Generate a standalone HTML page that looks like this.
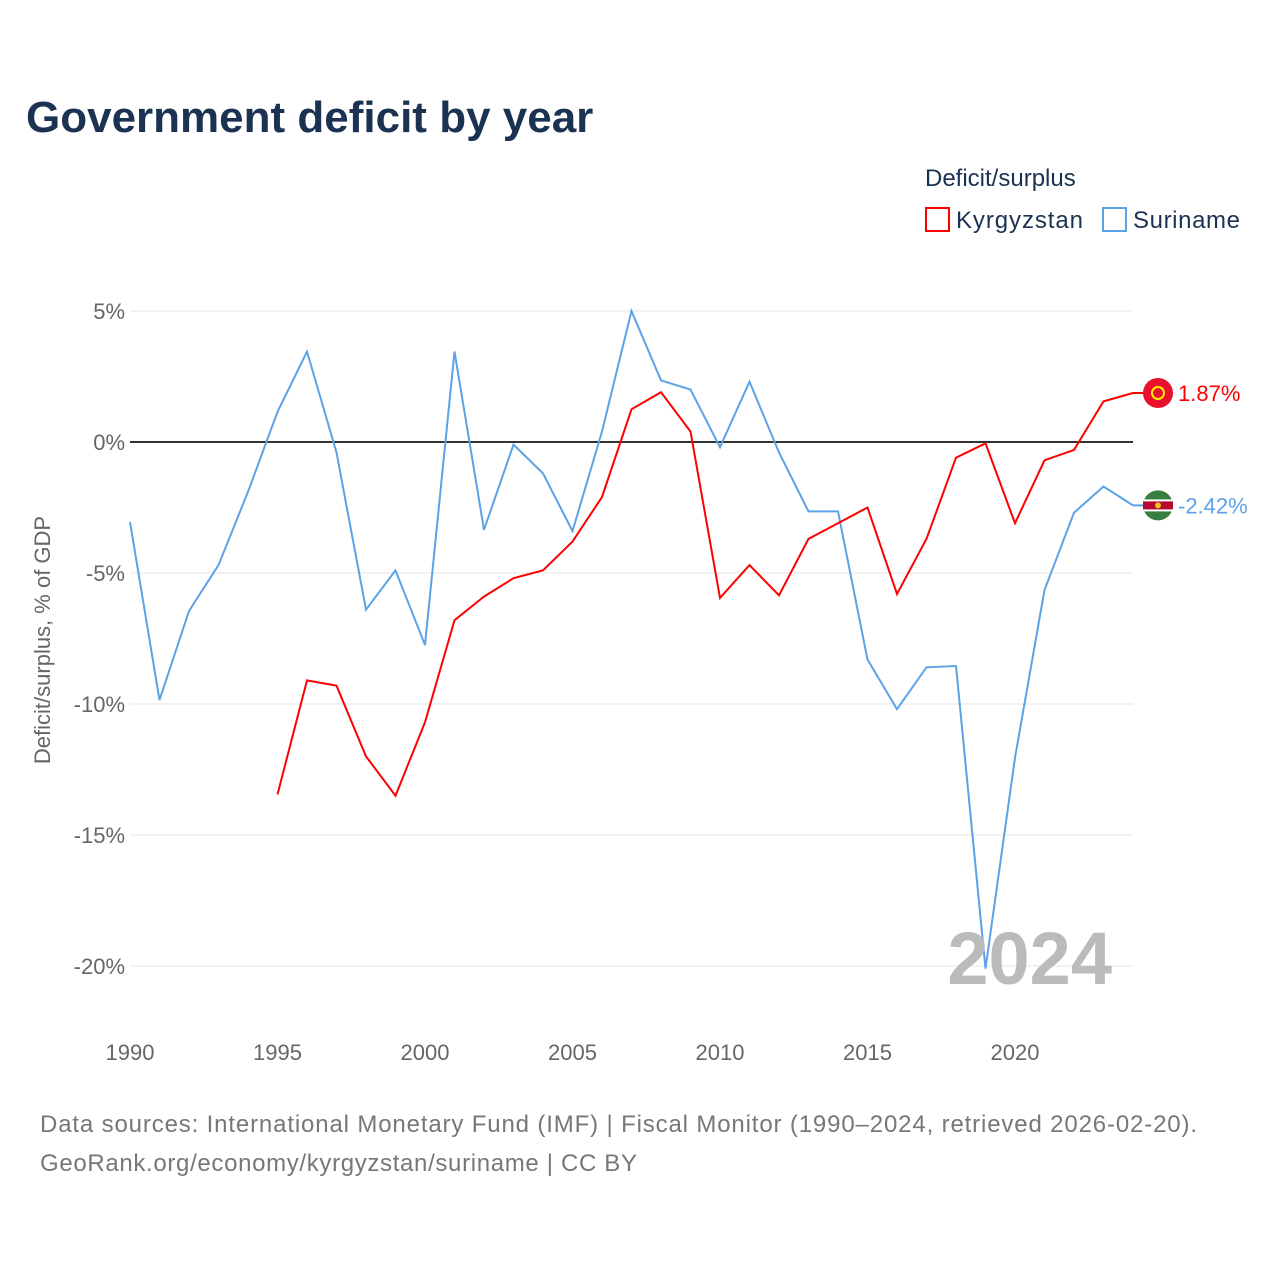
<!DOCTYPE html>
<html><head><meta charset="utf-8">
<style>
body{margin:0;background:#fff;font-family:"Liberation Sans",sans-serif;}
svg text{font-family:"Liberation Sans",sans-serif;}
</style></head>
<body>
<svg id="chart" width="1280" height="1280" viewBox="0 0 1280 1280" xmlns="http://www.w3.org/2000/svg">
<rect width="1280" height="1280" fill="#fff"/>
<text x="26" y="132" font-size="44" font-weight="bold" fill="#1b3252">Government deficit by year</text>
<text x="925" y="186" font-size="24" fill="#1b3252">Deficit/surplus</text>
<g>
<rect x="926" y="208" width="23" height="23" fill="none" stroke="#ff0000" stroke-width="2"/>
<text x="956" y="228" font-size="24" fill="#1b3252" textLength="127">Kyrgyzstan</text></g>
<g>
<rect x="1103" y="208" width="23" height="23" fill="none" stroke="#5ba3e6" stroke-width="2"/>
<text x="1133" y="228" font-size="24" fill="#1b3252" textLength="107">Suriname</text></g>
<text transform="translate(50,640) rotate(-90)" text-anchor="middle" font-size="22" fill="#666">Deficit/surplus, % of GDP</text>
<g id="grid"></g>
<g id="lines"></g>
<text x="1112" y="984" text-anchor="end" font-size="74" font-weight="bold" fill="#bbb">2024</text>
<text x="40" y="1132" font-size="24" fill="#777" textLength="1157">Data sources: International Monetary Fund (IMF) | Fiscal Monitor (1990–2024, retrieved 2026-02-20).</text>
<text x="40" y="1171" font-size="24" fill="#777" textLength="597">GeoRank.org/economy/kyrgyzstan/suriname | CC BY</text>
</svg>
<script>
const years=[];for(let y=1990;y<=2024;y++)years.push(y);
const suriname=[-3.05,-9.85,-6.45,-4.7,-1.9,1.15,3.45,-0.4,-6.4,-4.9,-7.75,3.45,-3.35,-0.1,-1.2,-3.4,0.4,5.0,2.35,2.0,-0.2,2.3,-0.4,-2.65,-2.65,-8.3,-10.2,-8.6,-8.55,-20.1,-12.05,-5.65,-2.7,-1.7,-2.42];
const kyrgyzstan=[null,null,null,null,null,-13.45,-9.1,-9.3,-12.0,-13.5,-10.7,-6.8,-5.9,-5.2,-4.9,-3.8,-2.1,1.25,1.9,0.4,-5.95,-4.7,-5.85,-3.7,-3.1,-2.5,-5.8,-3.7,-0.6,-0.05,-3.1,-0.7,-0.3,1.55,1.87];
const yTicks=[5,0,-5,-10,-15,-20];
const xTicks=[1990,1995,2000,2005,2010,2015,2020];
const NS="http://www.w3.org/2000/svg";
const xs=y=>130+(y-1990)*29.5;
const ys=v=>442-v*26.2;
const grid=document.getElementById('grid'),lines=document.getElementById('lines');
function mk(t,a,p){const e=document.createElementNS(NS,t);for(const k in a)e.setAttribute(k,a[k]);p.appendChild(e);return e;}
yTicks.forEach(v=>{
 const l=mk('line',{x1:130,x2:1133,y1:ys(v),y2:ys(v),stroke:v===0?'#333':'#e6e6e6','stroke-width':v===0?2:1},grid);
 
 
 const t=mk('text',{x:125,y:ys(v)+8,'text-anchor':'end','font-size':22,fill:'#666'},grid);
 t.textContent=v+'%';
 
 
});
xTicks.forEach(y=>{
 const t=mk('text',{x:xs(y),y:1060,'text-anchor':'middle','font-size':22,fill:'#666'},grid);
 t.textContent=y;
 
 
});
function path(vals,color,name){
 let d='';vals.forEach((v,i)=>{if(v===null)return;d+=(d?'L':'M')+xs(years[i]).toFixed(1)+','+ys(v).toFixed(1);});
 const p=mk('path',{d:d,fill:'none',stroke:color,'stroke-width':2},lines);
 
 
}
path(suriname,'#5ba3e6','suriname-line');
path(kyrgyzstan,'#ff0000','kyrgyzstan-line');
function endLabel(vals,color,name){
 const v=vals[vals.length-1],x=xs(2024),y=ys(v);
 mk('line',{x1:x,x2:x+10,y1:y,y2:y,stroke:color,'stroke-width':2},lines);
 const c=mk('circle',{cx:x+25,cy:y,r:15,fill:name==='kyrgyzstan'?'#e8112d':'#377e3f'},lines);
 
 
 if(name==='kyrgyzstan'){mk('circle',{cx:x+25,cy:y,r:6,fill:'none',stroke:'#ffef00','stroke-width':2},lines);}
 else{mk('rect',{x:x+10,y:y-6,width:30,height:12,fill:'#fff'},lines);mk('rect',{x:x+10,y:y-4,width:30,height:8,fill:'#b40a2d'},lines);mk('circle',{cx:x+25,cy:y,r:3,fill:'#ecc81d'},lines);}
 const t=mk('text',{x:x+45,y:y+8,'font-size':22,fill:color},lines);
 t.textContent=v.toFixed(2)+'%';
 
 
}
endLabel(kyrgyzstan,'#ff0000','kyrgyzstan');
endLabel(suriname,'#5ba3e6','suriname');
</script>
</body></html>
